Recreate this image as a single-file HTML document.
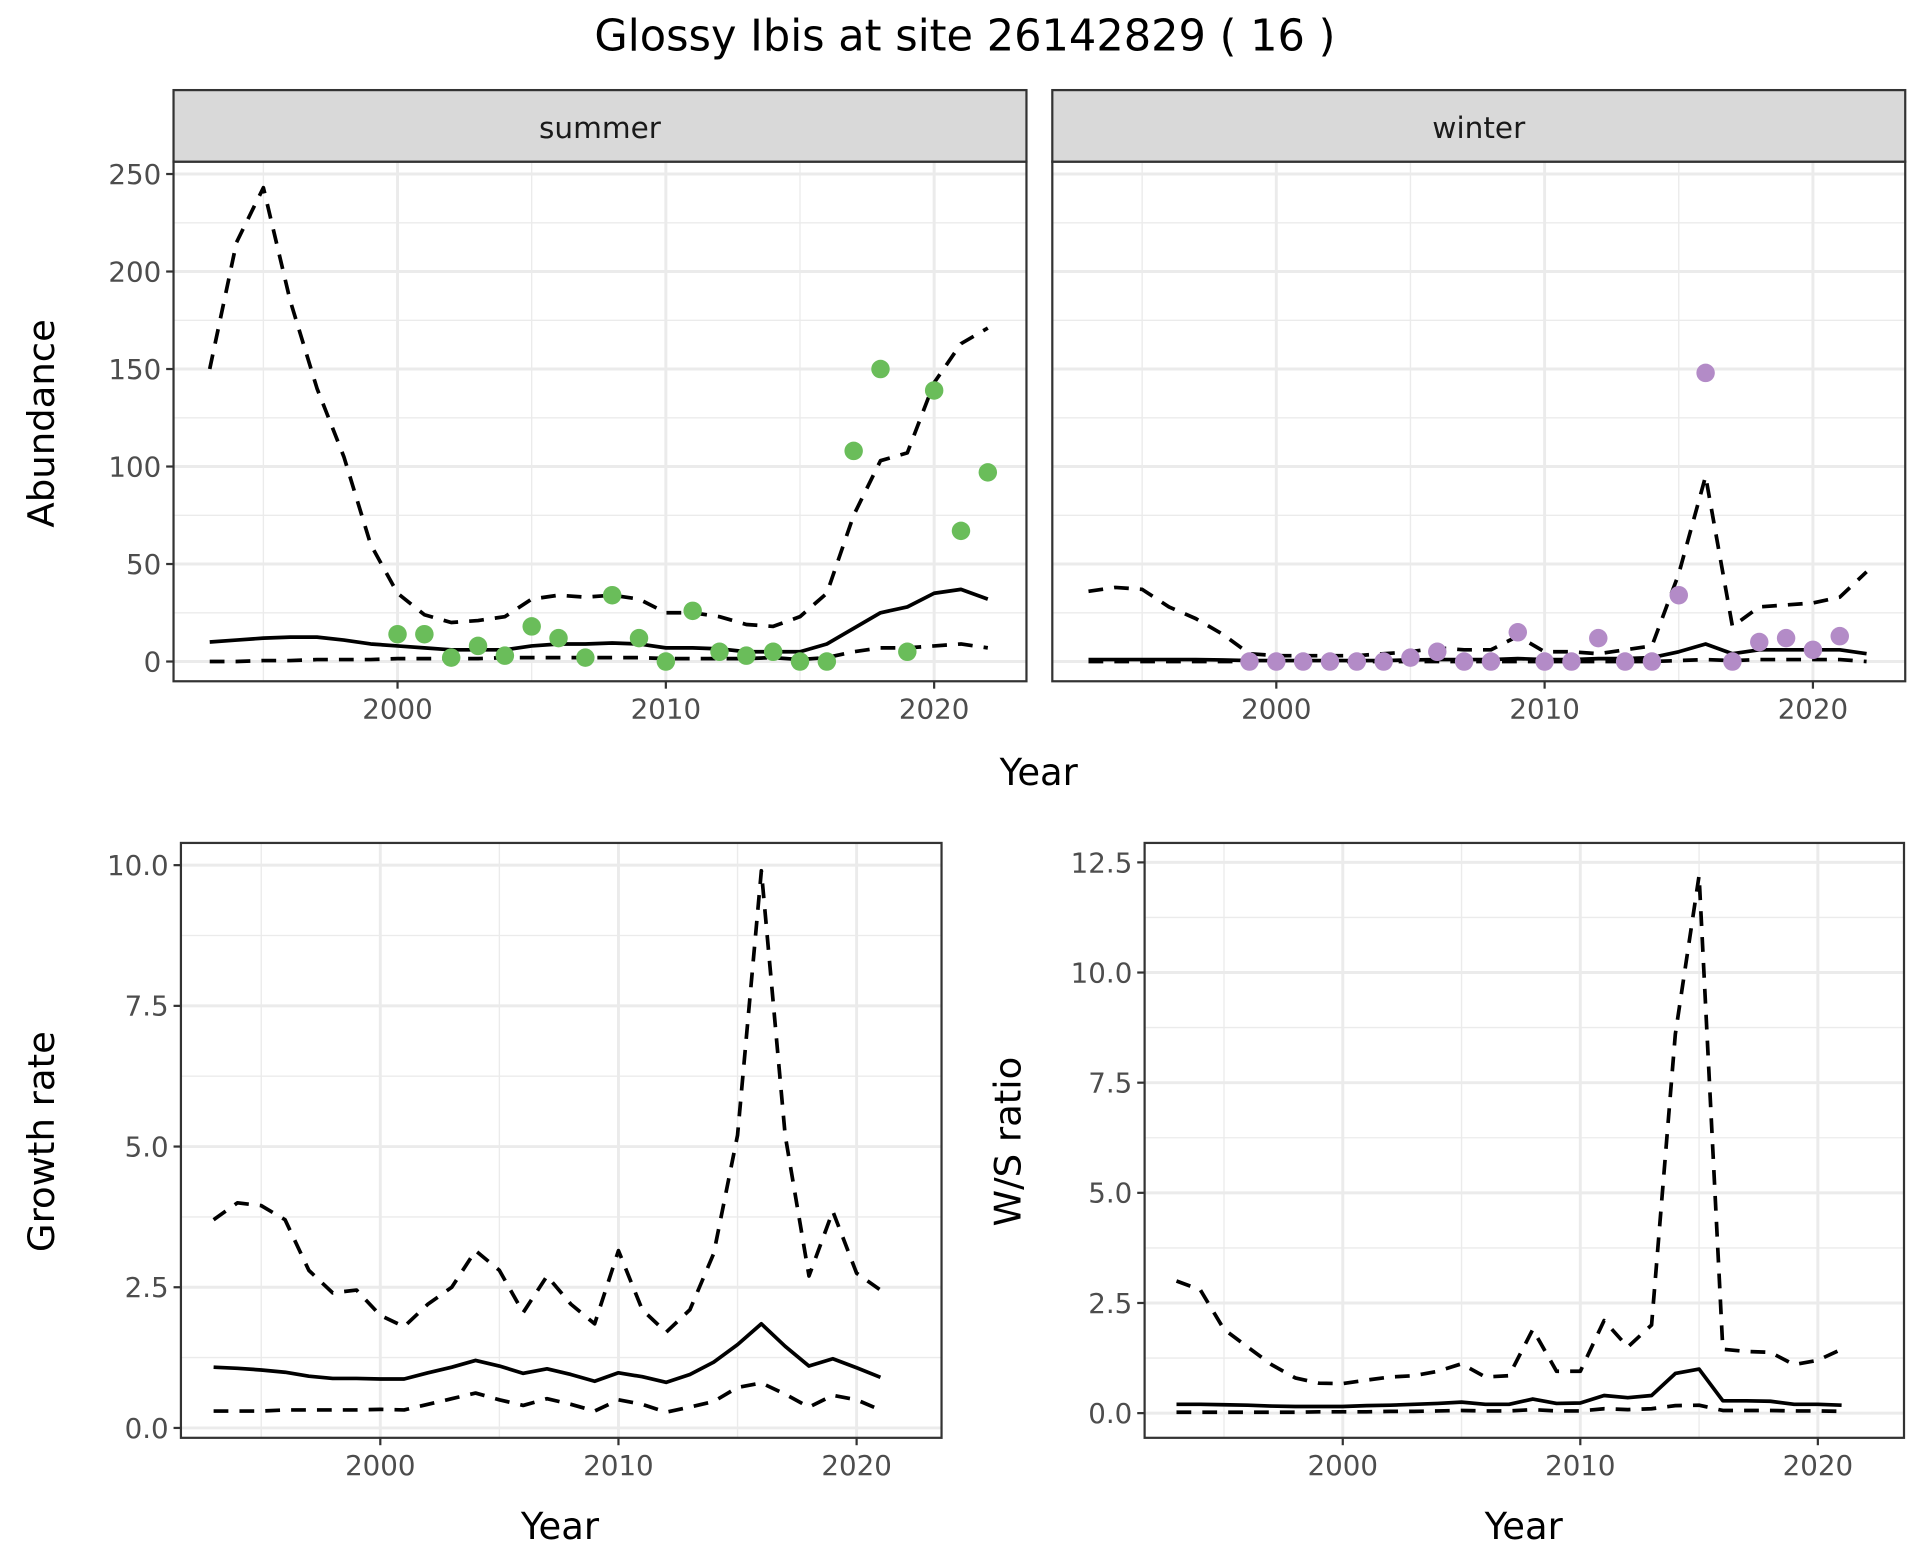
<!DOCTYPE html>
<html><head><meta charset="utf-8">
<style>
html,body{margin:0;padding:0;background:#fff;}
svg{display:block;font-family:"DejaVu Sans","Liberation Sans",sans-serif;}
</style></head>
<body>
<svg id="chart" width="1920" height="1560" viewBox="0 0 1560 1264" preserveAspectRatio="none" xmlns="http://www.w3.org/2000/svg">
<rect x="0" y="0" width="1560" height="1264" fill="#fff"/>
<text x="784" y="41" font-size="35" text-anchor="middle" fill="#000">Glossy Ibis at site 26142829 ( 16 )</text>
</svg>
<script>
const summerYears=[1993,1994,1995,1996,1997,1998,1999,2000,2001,2002,2003,2004,2005,2006,2007,2008,2009,2010,2011,2012,2013,2014,2015,2016,2017,2018,2019,2020,2021,2022];
const summerMean=[10,11,12,12.5,12.5,11,9,8,7,6,6,6,8,9,9,9.5,9,7,7,6.5,5,5,5,9,17,25,28,35,37,32];
const summerUpper=[150,215,243,185,140,105,60,35,24,20,21,23,32,34,33,34,32,25,25,23,19,18,23,35,75,103,107,143,163,171];
const summerLower=[0,0,0.5,0.5,1,1,1,1.5,1.5,1.5,1.5,2,2,2,2,2,2,1.5,1.5,1.5,1.5,2,1,2,5,7,7,8,9,7];
const summerObsYears=[2000,2001,2002,2003,2004,2005,2006,2007,2008,2009,2010,2011,2012,2013,2014,2015,2016,2017,2018,2019,2020,2021,2022];
const summerObs=[14,14,2,8,3,18,12,2,34,12,0,26,5,3,5,0,0,108,150,5,139,67,97];

const winterYears=summerYears;
const winterMean=[1,1,1,1,1,0.8,0.5,0.5,0.5,0.5,0.5,0.5,0.8,1,1,1,1.5,1,1,1.5,1.5,2,5,9,4,6,6,6,6,4];
const winterUpper=[36,38,37,28,22,14,4,3,3,3,3,4,5,7,6,6,13,5,5,4,6,8,45,95,18,28,29,30,33,46];
const winterLower=[0,0,0,0,0,0,0,0,0,0,0,0,0,0,0,0,0,0,0,0,0,0,0.5,1,0.5,1,1,1,1,0];
const winterObsYears=[1999,2000,2001,2002,2003,2004,2005,2006,2007,2008,2009,2010,2011,2012,2013,2014,2015,2016,2017,2018,2019,2020,2021];
const winterObs=[0,0,0,0,0,0,2,5,0,0,15,0,0,12,0,0,34,148,0,10,12,6,13];

const rateYears=[1993,1994,1995,1996,1997,1998,1999,2000,2001,2002,2003,2004,2005,2006,2007,2008,2009,2010,2011,2012,2013,2014,2015,2016,2017,2018,2019,2020,2021];
const rateMean=[1.08,1.06,1.03,0.99,0.92,0.88,0.88,0.87,0.87,0.98,1.08,1.2,1.1,0.97,1.05,0.95,0.83,0.98,0.91,0.81,0.95,1.17,1.48,1.85,1.45,1.1,1.23,1.07,0.9];
const rateUpper=[3.7,4.0,3.95,3.7,2.8,2.4,2.45,2.0,1.8,2.2,2.5,3.15,2.8,2.05,2.7,2.2,1.85,3.15,2.1,1.7,2.1,3.1,5.2,9.9,5.2,2.7,3.85,2.75,2.45];
const rateLower=[0.3,0.3,0.3,0.32,0.32,0.32,0.32,0.33,0.32,0.42,0.52,0.62,0.5,0.4,0.52,0.42,0.3,0.5,0.42,0.28,0.37,0.47,0.72,0.8,0.6,0.37,0.58,0.5,0.32];

const ratioYears=rateYears;
const ratioMean=[0.2,0.2,0.19,0.18,0.16,0.15,0.15,0.15,0.17,0.18,0.2,0.22,0.25,0.2,0.2,0.32,0.22,0.23,0.4,0.35,0.4,0.9,1.0,0.28,0.28,0.27,0.2,0.2,0.18];
const ratioUpper=[3.0,2.8,1.9,1.5,1.1,0.8,0.68,0.67,0.75,0.82,0.85,0.95,1.12,0.82,0.85,1.9,0.95,0.95,2.1,1.5,2.0,8.6,12.2,1.45,1.4,1.38,1.1,1.2,1.45];
const ratioLower=[0.02,0.02,0.02,0.02,0.02,0.02,0.03,0.03,0.03,0.04,0.04,0.05,0.06,0.05,0.05,0.08,0.05,0.05,0.1,0.08,0.1,0.17,0.18,0.06,0.06,0.06,0.05,0.05,0.04];

const svg=document.getElementById('chart');
const NS='http://www.w3.org/2000/svg';
function mk(tag,attrs,parent){const e=document.createElementNS(NS,tag);for(const k in attrs)e.setAttribute(k,attrs[k]);(parent||svg).appendChild(e);return e;}

function panel(cfg){
  const g=mk('g',{});
  
  
  const xs=v=>cfg.xa+(v-2000)*cfg.xk;
  const ys=v=>cfg.y0px-v*cfg.yk;
  mk('rect',{x:cfg.L,y:cfg.T,width:cfg.R-cfg.L,height:cfg.B-cfg.T,fill:'#fff'},g);
  cfg.yminor.forEach(v=>mk('line',{x1:cfg.L,x2:cfg.R,y1:ys(v),y2:ys(v),stroke:'#ebebeb','stroke-width':1.1},g));
  cfg.xminor.forEach(v=>{const x=xs(v);if(x>cfg.L&&x<cfg.R)mk('line',{x1:x,x2:x,y1:cfg.T,y2:cfg.B,stroke:'#ebebeb','stroke-width':1.1},g);});
  cfg.yticks.forEach(v=>mk('line',{x1:cfg.L,x2:cfg.R,y1:ys(v),y2:ys(v),stroke:'#ebebeb','stroke-width':2.4},g));
  cfg.xticks.forEach(v=>mk('line',{x1:xs(v),x2:xs(v),y1:cfg.T,y2:cfg.B,stroke:'#ebebeb','stroke-width':2.4},g));
  const line=(xsArr,vals,dash,nm)=>{
    const p=mk('polyline',{points:xsArr.map((x,i)=>xs(x)+','+ys(vals[i])).join(' '),fill:'none',stroke:'#000','stroke-width':3,'stroke-dasharray':dash||'none','stroke-linejoin':'round'},g);
    
    
  };
  line(cfg.years,cfg.upper,'12,9',cfg.name+'-upper-bound');
  line(cfg.years,cfg.lower,'12,9',cfg.name+'-lower-bound');
  line(cfg.years,cfg.mean,null,cfg.name+'-mean-line');
  if(cfg.obs){cfg.obsYears.forEach((yr,i)=>{
    const c=mk('circle',{cx:xs(yr),cy:ys(cfg.obs[i]),r:7.5,fill:cfg.color},g);
    
    
  });}
  mk('rect',{x:cfg.L,y:cfg.T,width:cfg.R-cfg.L,height:cfg.B-cfg.T,fill:'none',stroke:'#333','stroke-width':1.8},g);
  if(cfg.showY){cfg.yticks.forEach((v,i)=>{
    mk('line',{x1:cfg.L-6,x2:cfg.L,y1:ys(v),y2:ys(v),stroke:'#333','stroke-width':1.8},g);
    const t=mk('text',{x:cfg.L-10,y:ys(v)+8,'font-size':22.5,'text-anchor':'end',fill:'#4d4d4d'},g);
    t.textContent=cfg.ylabels[i];
    
    
  });}
  cfg.xticks.forEach(v=>{
    mk('line',{x1:xs(v),x2:xs(v),y1:cfg.B,y2:cfg.B+6,stroke:'#333','stroke-width':1.8},g);
    const t=mk('text',{x:xs(v),y:cfg.B+30,'font-size':22.5,'text-anchor':'middle',fill:'#4d4d4d'},g);
    t.textContent=String(v);
    
    
  });
  if(cfg.strip){
    const s=mk('rect',{x:cfg.L,y:73,width:cfg.R-cfg.L,height:cfg.T-73,fill:'#d9d9d9',stroke:'#333','stroke-width':1.8},g);
    
    
    const t=mk('text',{x:(cfg.L+cfg.R)/2,y:112,'font-size':24,'text-anchor':'middle',fill:'#1a1a1a'},g);
    t.textContent=cfg.strip;
    
    
  }
}
const absTicks=[0,50,100,150,200,250];
panel({name:'summer-panel',strip:'summer',L:141,R:834,T:131,B:552,xa:323,xk:21.8,y0px:536,yk:1.58,years:summerYears,mean:summerMean,upper:summerUpper,lower:summerLower,obsYears:summerObsYears,obs:summerObs,color:'#6abd5a',xticks:[2000,2010,2020],xminor:[1995,2005,2015],yticks:absTicks,ylabels:absTicks.map(String),yminor:[25,75,125,175,225],showY:true});
panel({name:'winter-panel',strip:'winter',L:855,R:1548,T:131,B:552,xa:1037,xk:21.8,y0px:536,yk:1.58,years:winterYears,mean:winterMean,upper:winterUpper,lower:winterLower,obsYears:winterObsYears,obs:winterObs,color:'#b38bc7',xticks:[2000,2010,2020],xminor:[1995,2005,2015],yticks:absTicks,ylabels:absTicks.map(String),yminor:[25,75,125,175,225],showY:false});
const rTicks=[0,2.5,5,7.5,10];
panel({name:'growth-rate-panel',L:147,R:765,T:683,B:1165,xa:309,xk:19.35,y0px:1157,yk:45.6,years:rateYears,mean:rateMean,upper:rateUpper,lower:rateLower,xticks:[2000,2010,2020],xminor:[1995,2005,2015],yticks:rTicks,ylabels:['0.0','2.5','5.0','7.5','10.0'],yminor:[1.25,3.75,6.25,8.75],showY:true});
const wTicks=[0,2.5,5,7.5,10,12.5];
panel({name:'ws-ratio-panel',L:930,R:1547,T:683,B:1165,xa:1091,xk:19.3,y0px:1145,yk:35.7,years:ratioYears,mean:ratioMean,upper:ratioUpper,lower:ratioLower,xticks:[2000,2010,2020],xminor:[1995,2005,2015],yticks:wTicks,ylabels:['0.0','2.5','5.0','7.5','10.0','12.5'],yminor:[1.25,3.75,6.25,8.75,11.25],showY:true});

function label(txt,x,y,rot,nm){
  const t=mk('text',{x:x,y:y,'font-size':30,'text-anchor':'middle',fill:'#000',transform:rot?`rotate(-90 ${x} ${y})`:''});
  t.textContent=txt;
  
  
}
label('Year',844,636,false,'x-axis-title-top');
label('Abundance',44,343,true,'y-axis-title-abundance');
label('Year',455,1247,false,'x-axis-title-growth');
label('Growth rate',44,925,true,'y-axis-title-growth');
label('Year',1238,1247,false,'x-axis-title-ratio');
label('W/S ratio',829,925,true,'y-axis-title-ratio');
</script>
</body></html>
